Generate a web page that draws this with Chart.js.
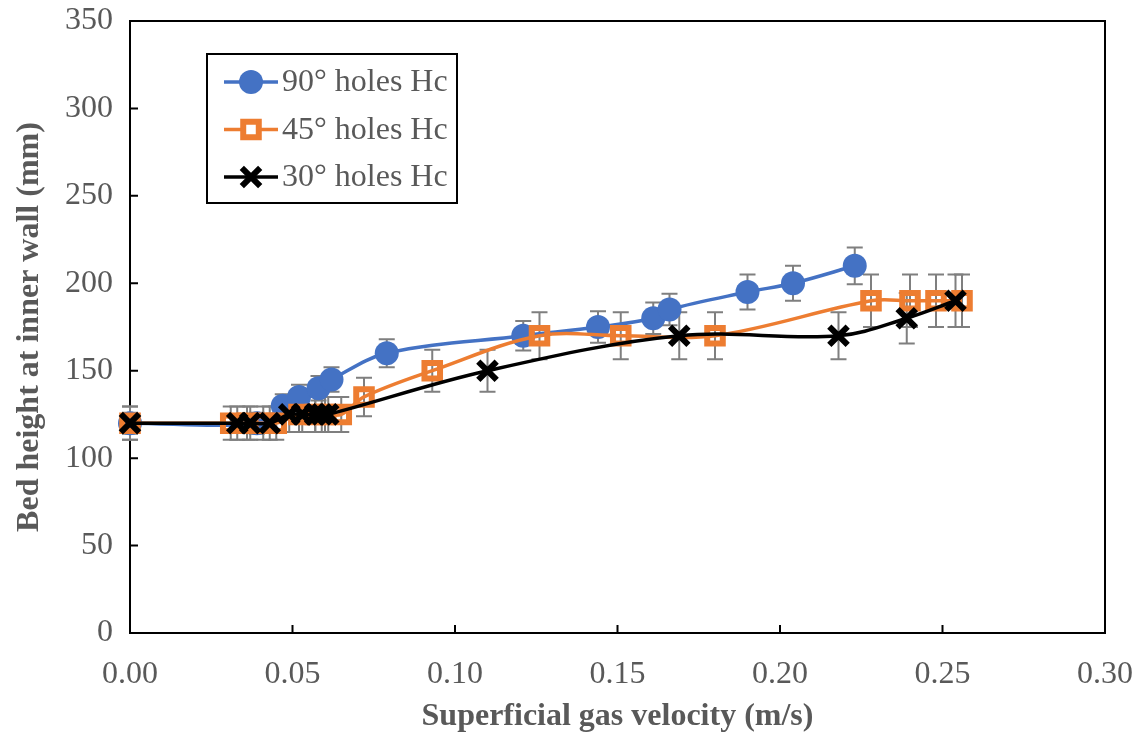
<!DOCTYPE html>
<html>
<head>
<meta charset="utf-8">
<script src="https://cdn.jsdelivr.net/npm/chart.js@4"></script>
<style>
  body { margin: 0; background: #fff; }
  #wrap { width: 1142px; height: 736px; }
</style>
</head>
<body>
<div id="wrap"><canvas id="bed-chart" width="1142" height="736"></canvas></div>
<script>
// values
const x90 = [0, 0.039, 0.047, 0.052, 0.058, 0.062, 0.079, 0.121, 0.144, 0.161, 0.166, 0.190, 0.204, 0.223];
const y90 = [120, 120, 130, 135, 140, 145, 160, 170, 175, 180, 185, 195, 200, 210];
const e90 = [6, 6, 6.5, 7, 7, 7, 8, 8.5, 9, 9, 9, 10, 10, 10.5];

const x45 = [0, 0.031, 0.036, 0.041, 0.045, 0.052, 0.057, 0.060, 0.065, 0.072, 0.093, 0.126, 0.151, 0.180, 0.228, 0.240, 0.248, 0.256];
const y45 = [120, 120, 120, 120, 120, 125, 125, 125, 125, 135, 150, 170, 170, 170, 190, 190, 190, 190];
const e45 = [9.5, 9.5, 9.5, 9.5, 9.5, 10, 10, 10, 10, 11, 12, 13.5, 13.5, 13.5, 15, 15, 15, 15];

const x30 = [0, 0.033, 0.037, 0.043, 0.049, 0.053, 0.057, 0.059, 0.061, 0.110, 0.169, 0.218, 0.239, 0.254];
const y30 = [120, 120, 120, 120, 125, 125, 125, 125, 125, 150, 170, 170, 180, 190];
const e30 = [9.5, 9.5, 9.5, 9.5, 10, 10, 10, 10, 10, 12, 13.5, 13.5, 14.5, 15];

const seriesNames = ['90° holes Hc', '45° holes Hc', '30° holes Hc'];
const xTicks = [0, 0.05, 0.10, 0.15, 0.20, 0.25, 0.30];
const yTicks = [0, 50, 100, 150, 200, 250, 300, 350];

const FONT = "'Liberation Serif', 'Times New Roman', serif";
const GREY = '#595959';

function toPoints(xs, ys) {
  return xs.map((x, i) => ({ x: x, y: ys[i] }));
}

// grey error bars, drawn under the markers
const errorBars = {
  id: 'errorBars',
  beforeDatasetsDraw(chart) {
    const ctx = chart.ctx;
    const xs = chart.scales.x, ys = chart.scales.y;
    ctx.save();
    ctx.strokeStyle = '#7f7f7f';
    ctx.lineWidth = 2;
    chart.data.datasets.forEach(ds => {
      ds.data.forEach((p, i) => {
        const e = ds.errors[i];
        const px = xs.getPixelForValue(p.x);
        const top = ys.getPixelForValue(p.y + e);
        const bot = ys.getPixelForValue(p.y - e);
        ctx.beginPath();
        ctx.moveTo(px, top); ctx.lineTo(px, bot);
        ctx.moveTo(px - 8, top); ctx.lineTo(px + 8, top);
        ctx.moveTo(px - 8, bot); ctx.lineTo(px + 8, bot);
        ctx.stroke();
      });
    });
    ctx.restore();
  }
};

// frame round the plot with inward tick marks
const frame = {
  id: 'frame',
  beforeDatasetsDraw(chart) {
    const ctx = chart.ctx;
    const a = chart.chartArea;
    const xs = chart.scales.x, ys = chart.scales.y;
    ctx.save();
    ctx.strokeStyle = '#000';
    ctx.lineWidth = 2;
    ctx.strokeRect(a.left, a.top, a.right - a.left, a.bottom - a.top);
    ctx.beginPath();
    xTicks.forEach(v => {
      const px = xs.getPixelForValue(v);
      ctx.moveTo(px, a.bottom); ctx.lineTo(px, a.bottom - 8);
    });
    yTicks.forEach(v => {
      const py = ys.getPixelForValue(v);
      ctx.moveTo(a.left, py); ctx.lineTo(a.left + 8, py);
    });
    ctx.stroke();
    ctx.restore();
  }
};

function drawMarker(ctx, ds, x, y) {
  ctx.save();
  ctx.strokeStyle = ds.pointBorderColor;
  ctx.fillStyle = ds.pointBackgroundColor;
  ctx.lineWidth = ds.pointBorderWidth;
  const r = ds.pointRadius;
  ctx.beginPath();
  if (ds.pointStyle === 'circle') {
    ctx.arc(x, y, r, 0, Math.PI * 2);
    ctx.fill();
  } else if (ds.pointStyle === 'rect') {
    const s = r * Math.SQRT1_2;
    ctx.rect(x - s, y - s, 2 * s, 2 * s);
    ctx.fillStyle = '#fff';
    ctx.fill();
    ctx.stroke();
  } else {
    const s = r * Math.SQRT1_2;
    ctx.moveTo(x - s, y - s); ctx.lineTo(x + s, y + s);
    ctx.moveTo(x + s, y - s); ctx.lineTo(x - s, y + s);
    ctx.stroke();
  }
  ctx.restore();
}

// boxed legend inside the plot, upper left
const boxLegend = {
  id: 'boxLegend',
  afterDraw(chart) {
    const ctx = chart.ctx;
    ctx.save();
    ctx.strokeStyle = '#000';
    ctx.lineWidth = 2;
    ctx.fillStyle = '#fff';
    ctx.fillRect(207, 54, 250, 149);
    ctx.strokeRect(207, 54, 250, 149);
    chart.data.datasets.forEach((ds, i) => {
      const y = 82 + i * 47.5;
      ctx.strokeStyle = ds.borderColor;
      ctx.lineWidth = ds.borderWidth;
      ctx.beginPath();
      ctx.moveTo(224, y); ctx.lineTo(278, y);
      ctx.stroke();
      drawMarker(ctx, ds, 251, y);
      ctx.fillStyle = GREY;
      ctx.font = '32px ' + FONT;
      ctx.textBaseline = 'middle';
      ctx.fillText(ds.label, 282, y + 1);
    });
    ctx.restore();
  }
};

const baseSet = {
  showLine: true,
  tension: 0.35,
  borderWidth: 3.5,
  clip: false
};

new Chart(document.getElementById('bed-chart'), {
  type: 'scatter',
  data: {
    datasets: [
      Object.assign({}, baseSet, {
        label: seriesNames[0],
        order: 3,
        data: toPoints(x90, y90),
        errors: e90,
        borderColor: '#4472c4',
        pointStyle: 'circle',
        pointRadius: 12,
        pointBorderWidth: 0,
        pointBorderColor: '#4472c4',
        pointBackgroundColor: '#4472c4'
      }),
      Object.assign({}, baseSet, {
        label: seriesNames[1],
        order: 2,
        data: toPoints(x45, y45),
        errors: e45,
        borderColor: '#ed7d31',
        pointStyle: 'rect',
        pointRadius: 11,
        pointBorderWidth: 6,
        pointBorderColor: '#ed7d31',
        pointBackgroundColor: 'rgba(255,255,255,0)'
      }),
      Object.assign({}, baseSet, {
        label: seriesNames[2],
        order: 1,
        data: toPoints(x30, y30),
        errors: e30,
        borderColor: '#000000',
        pointStyle: 'crossRot',
        pointRadius: 13,
        pointBorderWidth: 6,
        pointBorderColor: '#000000',
        pointBackgroundColor: '#000000'
      })
    ]
  },
  options: {
    responsive: false,
    animation: false,
    layout: { padding: { top: 21, right: 37, left: 0, bottom: 0 } },
    scales: {
      x: {
        type: 'linear',
        min: 0,
        max: 0.3,
        afterBuildTicks: (axis) => { axis.ticks = xTicks.map(v => ({ value: v })); },
        afterFit: (axis) => {
          axis.height = 103;
          axis.paddingLeft = 0;
          axis.paddingRight = 0;
        },
        grid: { display: false },
        border: { display: false },
        ticks: {
          padding: 14,
          color: GREY,
          font: { family: FONT, size: 32 },
          callback: (v) => v.toFixed(2)
        },
        title: {
          display: true,
          text: 'Superficial gas velocity (m/s)',
          color: GREY,
          font: { family: FONT, size: 32, weight: 'bold' },
          padding: { top: 4, bottom: 0 }
        }
      },
      y: {
        min: 0,
        max: 350,
        afterBuildTicks: (axis) => { axis.ticks = yTicks.map(v => ({ value: v })); },
        afterFit: (axis) => {
          axis.width = 130;
          axis.paddingTop = 0;
          axis.paddingBottom = 0;
        },
        grid: { display: false },
        border: { display: false },
        ticks: {
          padding: 9,
          color: GREY,
          font: { family: FONT, size: 32 }
        },
        title: {
          display: true,
          text: 'Bed height at inner wall (mm)',
          color: GREY,
          font: { family: FONT, size: 32, weight: 'bold' },
          padding: { top: 11, bottom: 0 }
        }
      }
    },
    plugins: {
      legend: { display: false },
      tooltip: { enabled: false }
    }
  },
  plugins: [frame, errorBars, boxLegend]
});
</script>
</body>
</html>
